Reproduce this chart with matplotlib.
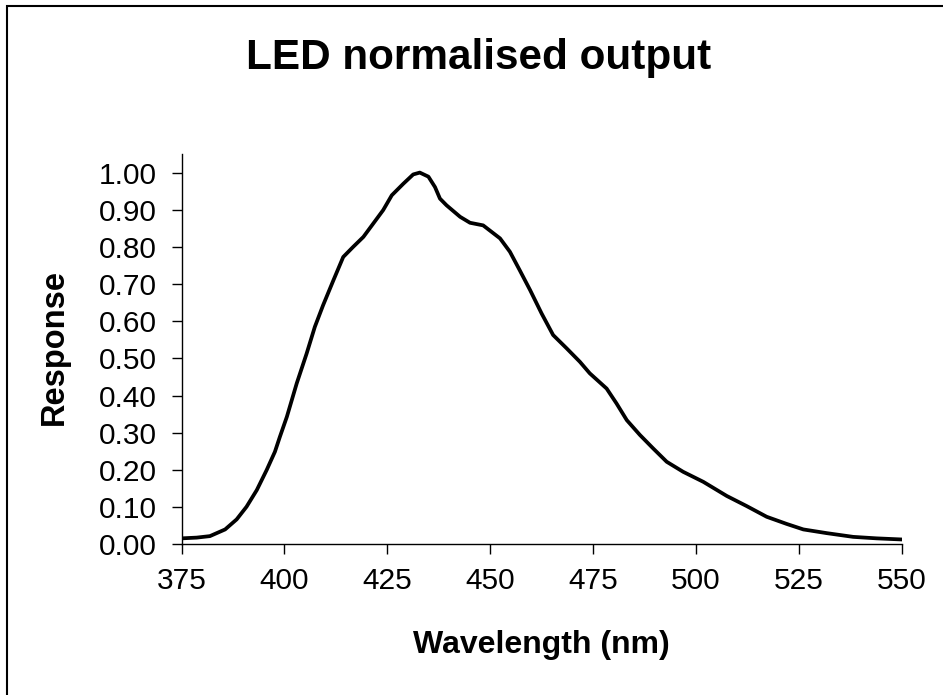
import numpy as np
import matplotlib.pyplot as plt
from matplotlib.patches import Rectangle

plt.rcParams['font.family'] = ['Liberation Sans', 'DejaVu Sans']

# LED spectrum
wavelength = [375, 378.7, 381.9, 385.6, 388.4, 390.8, 393.3, 395.7, 397.7, 398.9,
              400.6, 403.0, 405.4, 407.4, 409.4, 411.9, 414.3, 416.7, 419.2, 421.6,
              424.0, 426.1, 428.9, 431.3, 432.9, 435.0, 436.6, 437.8, 439.4, 442.7,
              445.1, 448.3, 452.4, 454.8, 457.2, 459.7, 462.5, 465.3, 468.6, 471.8,
              474.2, 478.3, 480.7, 483.2, 486.4, 489.6, 492.9, 496.9, 501.8, 507.5,
              512.3, 517.2, 522.0, 526.1, 531.8, 538.2, 543.9, 550]
response = [0.016, 0.018, 0.022, 0.040, 0.067, 0.101, 0.146, 0.200, 0.249, 0.289,
            0.343, 0.433, 0.513, 0.585, 0.643, 0.710, 0.773, 0.800, 0.827, 0.863,
            0.899, 0.939, 0.970, 0.995, 1.000, 0.989, 0.961, 0.930, 0.912, 0.881,
            0.865, 0.858, 0.823, 0.787, 0.737, 0.684, 0.621, 0.563, 0.527, 0.491,
            0.460, 0.419, 0.379, 0.334, 0.294, 0.258, 0.222, 0.195, 0.168, 0.130,
            0.103, 0.074, 0.055, 0.040, 0.030, 0.020, 0.016, 0.013]

xticks = [375, 400, 425, 450, 475, 500, 525, 550]
yticks = np.arange(0, 1.01, 0.1)

W, H = 943, 695
fig = plt.figure(figsize=(W / 100, H / 100), dpi=100)
ax = fig.add_axes([181.5 / W, 1 - 544.3 / H, 720.2 / W, 390.3 / H])

ax.plot(wavelength, response, '-k', linewidth=2.7, solid_joinstyle='round')

ax.set_xlim(375, 550)
ax.set_ylim(0, 1.05)
ax.set_xticks(xticks)
ax.set_yticks(yticks)
ax.set_yticklabels(['%.2f' % v for v in yticks])
ax.tick_params(direction='out', length=7, width=1, labelsize=21.5, colors='black')
ax.tick_params(axis='y', pad=11)
ax.tick_params(axis='x', pad=9)
for s in ['top', 'right']:
    ax.spines[s].set_visible(False)
for s in ['left', 'bottom']:
    ax.spines[s].set_linewidth(1)

ax.set_xlabel('Wavelength (nm)', fontsize=23, fontweight='bold')
ax.set_ylabel('Response', fontsize=23.5, fontweight='bold')
ax.xaxis.set_label_coords(0.5, -0.258)
ax.yaxis.set_label_coords(-0.177, 0.505)
for lab in (ax.xaxis.label, ax.yaxis.label):
    lab.set_verticalalignment('center')

fig.text(479 / W, 1 - 58 / H, 'LED normalised output', fontsize=30.4,
         fontweight='bold', ha='center', va='center')

# chart area border (runs off right and bottom edge)
fig.patches.append(Rectangle((7 / W, -0.1), 2, 1 - 5.5 / H + 0.1,
                             transform=fig.transFigure, fill=False,
                             edgecolor='black', linewidth=1.5))

fig.savefig('out.png', dpi=100)
